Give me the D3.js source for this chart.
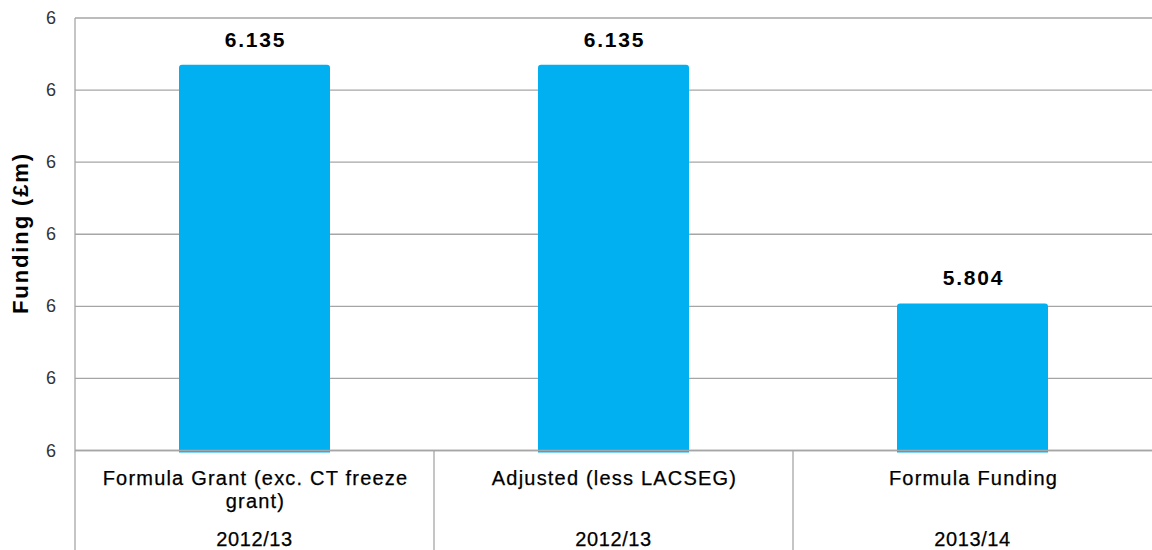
<!DOCTYPE html>
<html>
<head>
<meta charset="utf-8">
<script src="https://cdn.jsdelivr.net/npm/d3@7"></script>
<style>
  html, body { margin: 0; padding: 0; background: #fff; }
  svg { display: block; font-family: "Liberation Sans", Arial, sans-serif; }
</style>
</head>
<body>
<svg id="chart" width="1152" height="550"></svg>
<script>
// ---- data ----
const categories = ["Formula Grant (exc. CT freeze grant)", "Adjusted (less LACSEG)", "Formula Funding"];
const categoryLines = [["Formula Grant (exc. CT freeze", "grant)"], ["Adjusted (less LACSEG)"], ["Formula Funding"]];
const years = ["2012/13", "2012/13", "2013/14"];
const values = [6.135, 6.135, 5.804];
const valueLabels = ["6.135", "6.135", "5.804"];
const tickValues = [5.6, 5.7, 5.8, 5.9, 6.0, 6.1, 6.2];
const yTitle = "Funding (£m)";

// ---- layout ----
const W = 1152, H = 550;
const mLeft = 75, mRight = 1152, mTop = 18, mBottom = 450.5;
const svg = d3.select("#chart");

const x = d3.scaleBand().domain(categories).range([mLeft, mRight]).paddingInner(0).paddingOuter(0);
const y = d3.scaleLinear().domain([5.6, 6.2]).range([mBottom, mTop]);
const barW = 151;

// gridlines
svg.append("g").selectAll("line").data(tickValues).join("line")
  .attr("x1", mLeft).attr("x2", mRight)
  .attr("y1", d => y(d)).attr("y2", d => y(d))
  .attr("stroke", "#a6a6a6").attr("stroke-width", 1.3);

// bars (rounded top corners)
svg.append("g").selectAll("path").data(values).join("path")
  .attr("fill", "#00b0f0")
  .attr("d", (d, i) => {
    const cx = x(categories[i]) + x.bandwidth() / 2;
    const x0 = cx - barW / 2, x1 = cx + barW / 2;
    const y0 = y(d), y1 = mBottom + 2;
    const r = 3;
    return `M${x0},${y1}L${x0},${y0 + r}Q${x0},${y0} ${x0 + r},${y0}L${x1 - r},${y0}Q${x1},${y0} ${x1},${y0 + r}L${x1},${y1}Z`;
  });

// baseline over bars
svg.append("line").attr("x1", mLeft).attr("x2", mRight)
  .attr("y1", y(5.6)).attr("y2", y(5.6))
  .attr("stroke", "#a6a6a6").attr("stroke-width", 1.3);

// left axis line and category separators
svg.append("line").attr("x1", mLeft).attr("x2", mLeft).attr("y1", mTop).attr("y2", H)
  .attr("stroke", "#a6a6a6").attr("stroke-width", 1.3);
svg.append("g").selectAll("line").data(categories.slice(1)).join("line")
  .attr("x1", d => x(d)).attr("x2", d => x(d))
  .attr("y1", mBottom).attr("y2", H)
  .attr("stroke", "#a6a6a6").attr("stroke-width", 1.3);

// y axis tick labels
const fmt = d3.format(".0f");
svg.append("g").selectAll("text").data(tickValues).join("text")
  .attr("x", 56).attr("y", d => y(d) + 6)
  .attr("text-anchor", "end")
  .attr("font-size", 18).attr("fill", "#333")
  .text(d => fmt(d));

// y axis title
svg.append("text")
  .attr("transform", `translate(28,233) rotate(-90)`)
  .attr("text-anchor", "middle")
  .attr("font-size", 22).attr("font-weight", "bold")
  .attr("letter-spacing", 1.9)
  .attr("fill", "#000")
  .text(yTitle);

// value labels
svg.append("g").selectAll("text").data(values).join("text")
  .attr("x", (d, i) => x(categories[i]) + x.bandwidth() / 2 + 1)
  .attr("y", d => y(d) - 18)
  .attr("text-anchor", "middle")
  .attr("font-size", 21).attr("font-weight", "bold")
  .attr("letter-spacing", 1.8)
  .attr("fill", "#000")
  .text((d, i) => valueLabels[i]);

// category labels
const catG = svg.append("g").selectAll("text").data(categories).join("text")
  .attr("text-anchor", "middle")
  .attr("font-size", 20).attr("fill", "#000")
  .attr("stroke", "#000").attr("stroke-width", 0.25)
  .attr("letter-spacing", 1.2);
catG.each(function(d, i) {
  const t = d3.select(this);
  const cx = x(d) + x.bandwidth() / 2;
  categoryLines[i].forEach((line, j) => {
    t.append("tspan").attr("x", cx + 1).attr("y", 485 + j * 23).text(line);
  });
});

// year labels
svg.append("g").selectAll("text").data(years).join("text")
  .attr("x", (d, i) => x(categories[i]) + x.bandwidth() / 2)
  .attr("y", 546)
  .attr("text-anchor", "middle")
  .attr("font-size", 20).attr("fill", "#000")
  .attr("stroke", "#000").attr("stroke-width", 0.25)
  .attr("letter-spacing", 0.6)
  .text(d => d);
</script>
</body>
</html>
